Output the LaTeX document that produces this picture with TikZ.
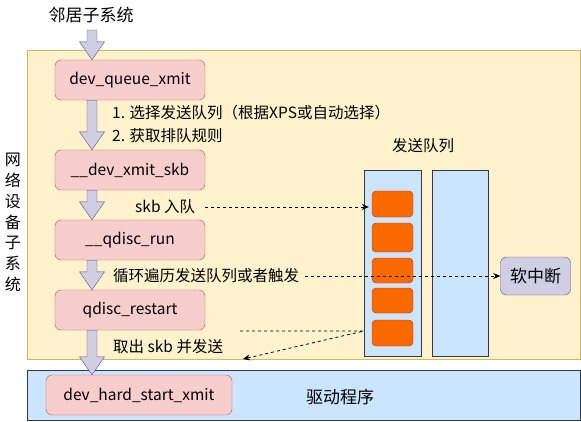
\documentclass[tikz,border=0pt]{standalone}
\usepackage{fontspec}
\setmainfont{Noto Sans CJK SC}
\usetikzlibrary{positioning,calc,arrows.meta}

\definecolor{ylfill}{HTML}{FFF2CC}
\definecolor{yldraw}{HTML}{D6B656}
\definecolor{pkfill}{HTML}{F8CECC}
\definecolor{pkdraw}{HTML}{B85450}
\definecolor{blfill}{HTML}{CCE5FF}
\definecolor{bldraw}{HTML}{36393D}
\definecolor{orfill}{HTML}{FA6800}
\definecolor{ordraw}{HTML}{C73500}
\definecolor{pufill}{HTML}{D0CEE2}
\definecolor{pudraw}{HTML}{56517E}

% 空心大箭头
\newcommand{\blockarrow}[2]{%
  \draw[bigarrow] ($(#1)+(-5,0)$) -- ($(#1)+(5,0)$) -- ($(#2)+(5,-18)$)
    -- ($(#2)+(12.5,-18)$) -- (#2) -- ($(#2)+(-12.5,-18)$) -- ($(#2)+(-5,-18)$) -- cycle;}

\begin{document}
\begin{tikzpicture}[x=1pt, y=-1pt,
    func/.style={draw=pkdraw, fill=pkfill, rounded corners=6pt, minimum width=150pt,
      minimum height=40pt, inner sep=0pt, font=\fontsize{15.5}{18}\selectfont},
    lbl/.style={anchor=west, inner sep=0pt, font=\fontsize{15.5}{18}\selectfont},
    big/.style={font=\fontsize{17}{20}\selectfont},
    pkt/.style={draw=ordraw, fill=orfill, rounded corners=4pt, minimum width=41pt, inner sep=0pt},
    txqueue/.style={draw=bldraw, fill=blfill, minimum height=186pt, inner sep=0pt},
    bigarrow/.style={draw=pudraw, fill=pufill},
    flow/.style={line width=0.8pt, dash pattern=on 3pt off 3pt, -{Stealth[length=7pt,width=6pt]}}]
    \useasboundingbox (0,0) rectangle (581,421);

    % 网络设备子系统 / 驱动程序 区域
    \draw[draw=yldraw, fill=ylfill] (27.5,50.5) rectangle (580,359.5);
    \draw[draw=bldraw, fill=blfill] (27.5,370.5) rectangle (580,420);

    \node[big] (nbr) at (91,15) {邻居子系统};
    \node[align=center, font=\fontsize{16}{20.8}\selectfont] (netdev) at (13,222.5) {网\\络\\设\\备\\子\\系\\统};
    \node[big] (drv) at (340,397) {驱动程序};

    % 函数调用
    \node[func] (q1) at (130,80) {dev\_queue\_xmit};
    \node[func] (q2) at (130,170) {\_\_dev\_xmit\_skb};
    \node[func] (q3) at (130,240) {\_\_qdisc\_run};
    \node[func] (q4) at (130,310) {qdisc\_restart};
    \node[func, minimum width=186pt] (hard) at (139,395) {dev\_hard\_start\_xmit};

    \coordinate (ax) at (92,0);
    \coordinate (nb) at (92,30);
    \blockarrow{nb}{q1.north -| ax}
    \blockarrow{q1.south -| ax}{q2.north -| ax}
    \blockarrow{q2.south -| ax}{q3.north -| ax}
    \blockarrow{q3.south -| ax}{q4.north -| ax}
    \blockarrow{q4.south -| ax}{hard.north -| ax}

    \node[lbl] (l1) at (112,113) {1. 选择发送队列（根据XPS或自动选择）};
    \node[lbl] (l2) at (112,136) {2. 获取排队规则};
    \node[lbl] (l3) at (135,207) {skb 入队};
    \node[lbl] (l4) at (113,276) {循环遍历发送队列或者触发};
    \node[lbl] (l5) at (113,347) {取出 skb 并发送};

    % 发送队列
    \node[font=\fontsize{15.5}{18}\selectfont] (txq) at (423,146) {发送队列};
    \node[txqueue, minimum width=57pt] (col1) at (392.5,263) {};
    \node[txqueue, minimum width=56pt] (col2) at (460,263) {};
    \foreach \y/\h [count=\i] in {204/26, 237.5/29, 270.5/25, 300.5/25, 333/26}
        \node[pkt, minimum height=\h pt] (p\i) at (392.5,\y) {};

    \node[draw=pudraw, fill=pufill, rounded corners=6pt, minimum width=70pt, minimum height=38pt,
      inner sep=0pt, big] (sirq) at (535.5,276) {软中断};

    % 虚线
    \coordinate (d1) at (240,331);
    \coordinate (d2) at (243,359);
    \draw[flow, shorten <=10pt, shorten >=3pt] (l3.east) -- (l3.east -| p1.west);
    \draw[flow, shorten <=6pt] (l4.east) -- (sirq.west);
    \draw[flow] (d1) -- (d1 -| col1.west) -- (d2);
\end{tikzpicture}
\end{document}
